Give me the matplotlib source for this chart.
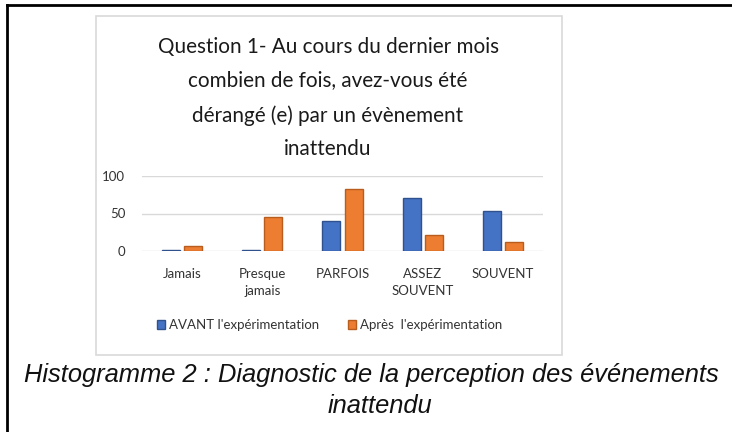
import numpy as np
import matplotlib.pyplot as plt
from matplotlib.patches import Rectangle, Patch
from matplotlib.lines import Line2D

categories = ['Jamais', 'Presque\njamais', 'PARFOIS', 'ASSEZ\nSOUVENT', 'SOUVENT']
avant = [2, 2, 40, 71, 53]
apres = [7, 46, 83, 22, 12]
series_names = ["AVANT l'expérimentation", "Après  l'expérimentation"]
y_ticks = [0, 50, 100]

W, H = 732, 432
fig = plt.figure(figsize=(W / 100, H / 100), dpi=100)
fig.patch.set_facecolor('white')

def fx(px):
    return px / W

def fy(py):
    return 1 - py / H

# cadre noir (coin haut gauche) et cadre gris du graphique
fig.add_artist(Line2D([fx(7), fx(7)], [0, fy(5)], color='black', lw=2))
fig.add_artist(Line2D([fx(7), 1], [fy(5), fy(5)], color='black', lw=2))
fig.add_artist(Rectangle((fx(96), fy(355)), fx(562) - fx(96), fy(16) - fy(355),
                         fill=False, edgecolor='#d9d9d9', lw=1.2))

ax = fig.add_axes([fx(142), fy(251), fx(543) - fx(142), fy(176) - fy(251)])
x = np.arange(len(categories))
bw = 0.225
off = 0.1375
ax.bar(x - off, avant, bw, color='#4472c4', edgecolor='#2f528f', lw=1)
ax.bar(x + off, apres, bw, color='#ed7d31', edgecolor='#b85d1e', lw=1)

ax.set_xlim(-0.5, len(categories) - 0.5)
ax.set_ylim(0, 100)
ax.set_yticks(y_ticks)
ax.set_xticks(x)
ax.set_xticklabels(categories, family='Lato', fontsize=9.5, color='#333333', linespacing=1.55)
for lab in ax.get_yticklabels():
    lab.set_family('Lato')
    lab.set_fontsize(9.5)
    lab.set_color('#333333')
ax.tick_params(axis='both', length=0)
ax.tick_params(axis='x', pad=12)
ax.tick_params(axis='y', pad=12)
ax.grid(axis='y', color='#d9d9d9', lw=1)
ax.set_axisbelow(True)
for s in ax.spines.values():
    s.set_visible(False)
ax.patch.set_alpha(0)

fig.text(fx(328), fy(98),
         "Question 1- Au cours du dernier mois\ncombien de fois, avez-vous été\n"
         "dérangé (e) par un évènement\ninattendu",
         ha='center', va='center', family='Lato', fontsize=14.9,
         color='#1a1a1a', linespacing=1.87)

handles = [Patch(facecolor='#4472c4', edgecolor='#2f528f'),
           Patch(facecolor='#ed7d31', edgecolor='#b85d1e')]
fig.legend(handles, series_names, loc='center', bbox_to_anchor=(fx(330), fy(325)),
           ncol=2, frameon=False, handlelength=0.6, handleheight=0.6,
           handletextpad=0.3, columnspacing=2.2,
           prop={'family': 'Lato', 'size': 9.5}, labelcolor='#333333')

fig.text(fx(24), fy(382), "Histogramme 2 : Diagnostic de la perception des événements",
         ha='left', va='baseline', family='Liberation Sans', style='italic',
         fontsize=18.4, color='#111111')
fig.text(fx(380), fy(413), "inattendu", ha='center', va='baseline',
         family='Liberation Sans', style='italic', fontsize=18.4, color='#111111')

fig.savefig('out.png', dpi=100, facecolor='white')
